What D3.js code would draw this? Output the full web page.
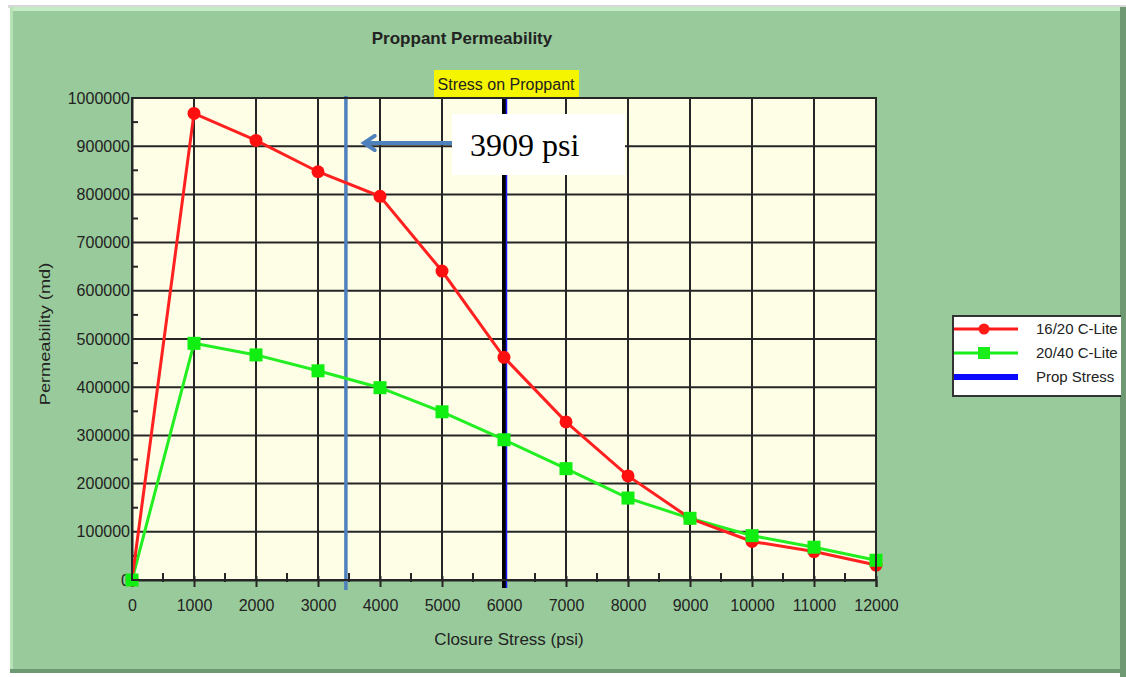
<!DOCTYPE html>
<html>
<head>
<meta charset="utf-8">
<script src="https://cdn.jsdelivr.net/npm/d3@7"></script>
<style>
  body { margin: 0; background: #ffffff; }
  svg { display: block; }
</style>
</head>
<body>
<script>
// data
var stress = [0, 1000, 2000, 3000, 4000, 5000, 6000, 7000, 8000, 9000, 10000, 11000, 12000];
var cLite1620 = [0, 968000, 912000, 847000, 796000, 641000, 462000, 328000, 216000, 128000, 80000, 59000, 31000];
var cLite2040 = [0, 491000, 467000, 434000, 399000, 349000, 291000, 231000, 170000, 128000, 92000, 68000, 41000];
var xTicks = [0, 1000, 2000, 3000, 4000, 5000, 6000, 7000, 8000, 9000, 10000, 11000, 12000];
var yTicks = [0, 100000, 200000, 300000, 400000, 500000, 600000, 700000, 800000, 900000, 1000000];
var propStress = 6000;
var markerStress = 3450;
var seriesNames = ["16/20 C-Lite", "20/40 C-Lite", "Prop Stress"];

var W = 1126, H = 677;
var sans = "'Liberation Sans', Arial, sans-serif";
var margin = {top: 98, left: 132, right: 250, bottom: 97};
var width = 876 - margin.left,
    height = 580 - margin.top;

var svg = d3.select("body").append("svg")
    .attr("width", W)
    .attr("height", H)
    .style("font-family", sans);

// green panel with bevel edges
svg.append("rect").attr("x", 0).attr("y", 0).attr("width", W).attr("height", H).attr("fill", "#ffffff");
svg.append("rect").attr("x", 8).attr("y", 5).attr("width", W - 8).attr("height", 3).attr("fill", "#d8d8d8");
svg.append("rect").attr("x", 10).attr("y", 7).attr("width", 1113).attr("height", 666).attr("fill", "#99ca9b");
svg.append("rect").attr("x", 10).attr("y", 7).attr("width", 1113).attr("height", 4).attr("fill", "#c4ecc4");
svg.append("rect").attr("x", 10).attr("y", 7).attr("width", 3).attr("height", 666).attr("fill", "#b6e2b6");
svg.append("rect").attr("x", 10).attr("y", 669).attr("width", 1113).attr("height", 4).attr("fill", "#6f9972");
svg.append("rect").attr("x", 1120).attr("y", 7).attr("width", 6).attr("height", 670).attr("fill", "#6f9972");

var g = svg.append("g")
    .attr("transform", "translate(" + margin.left + "," + margin.top + ")");

var xScale = d3.scaleLinear().domain([0, 12000]).range([0, width]);
var yScale = d3.scaleLinear().domain([0, 1000000]).range([height, 0]);

// plot background
g.append("rect")
    .attr("width", width)
    .attr("height", height)
    .attr("fill", "#fefee6");

// grid
g.append("g").selectAll("line").data(xTicks).join("line")
    .attr("x1", function(d) { return xScale(d); })
    .attr("x2", function(d) { return xScale(d); })
    .attr("y1", 0).attr("y2", height)
    .attr("stroke", "#262626").attr("stroke-width", 2);
g.append("g").selectAll("line").data(yTicks).join("line")
    .attr("y1", function(d) { return yScale(d); })
    .attr("y2", function(d) { return yScale(d); })
    .attr("x1", 0).attr("x2", width)
    .attr("stroke", "#262626").attr("stroke-width", 2);

// axes
var xAxis = g.append("g")
    .attr("transform", "translate(0," + height + ")")
    .call(d3.axisBottom(xScale).tickValues(xTicks).tickSize(7).tickPadding(13).tickFormat(d3.format("d")));
var yAxis = g.append("g")
    .call(d3.axisLeft(yScale).tickValues(yTicks).tickSize(0).tickPadding(2).tickFormat(d3.format("d")));
[xAxis, yAxis].forEach(function(a) {
    a.select(".domain").attr("stroke", "#262626").attr("stroke-width", 2);
    a.selectAll(".tick line").attr("stroke", "#262626").attr("stroke-width", 2);
    a.selectAll("text")
        .style("font-family", sans).style("font-size", "16px")
        .attr("fill", "#222");
});
xAxis.selectAll(".tick line").attr("y1", -4);

// minor ticks
var xMinor = d3.range(500, 12000, 1000);
var yMinor = d3.range(50000, 1000000, 100000);
g.append("g").selectAll("line").data(xMinor).join("line")
    .attr("x1", function(d) { return xScale(d); })
    .attr("x2", function(d) { return xScale(d); })
    .attr("y1", height - 7).attr("y2", height + 2)
    .attr("stroke", "#262626").attr("stroke-width", 2);
g.append("g").selectAll("line").data(yMinor).join("line")
    .attr("y1", function(d) { return yScale(d); })
    .attr("y2", function(d) { return yScale(d); })
    .attr("x1", -1).attr("x2", 6)
    .attr("stroke", "#262626").attr("stroke-width", 2);

// prop stress line
g.append("line")
    .attr("x1", xScale(propStress)).attr("x2", xScale(propStress))
    .attr("y1", -2).attr("y2", height + 8)
    .attr("stroke", "#000").attr("stroke-width", 4);
g.append("line")
    .attr("x1", xScale(propStress) + 2.5).attr("x2", xScale(propStress) + 2.5)
    .attr("y1", -2).attr("y2", height + 8)
    .attr("stroke", "#1a1aff").attr("stroke-width", 1.5);

// marker line
g.append("line")
    .attr("x1", xScale(markerStress)).attr("x2", xScale(markerStress))
    .attr("y1", -2).attr("y2", height + 10)
    .attr("stroke", "#4f81bd").attr("stroke-width", 3.5);

// series
var line1 = d3.line()
    .x(function(d, i) { return xScale(stress[i]); })
    .y(function(d) { return yScale(d); });

g.append("path").datum(cLite2040)
    .attr("d", line1).attr("fill", "none")
    .attr("stroke", "#22ee22").attr("stroke-width", 3);
g.append("path").datum(cLite1620)
    .attr("d", line1).attr("fill", "none")
    .attr("stroke", "#ff2020").attr("stroke-width", 3);

g.append("g").selectAll("circle").data(cLite1620).join("circle")
    .attr("cx", function(d, i) { return xScale(stress[i]); })
    .attr("cy", function(d) { return yScale(d); })
    .attr("r", 6.5)
    .attr("fill", "#ff1010");
g.append("g").selectAll("rect").data(cLite2040).join("rect")
    .attr("x", function(d, i) { return xScale(stress[i]) - 6.5; })
    .attr("y", function(d) { return yScale(d) - 6.5; })
    .attr("width", 13).attr("height", 13)
    .attr("fill", "#11ee11");

// plot border
g.append("rect").attr("width", width).attr("height", height)
    .attr("fill", "none").attr("stroke", "#262626").attr("stroke-width", 2);

// titles
svg.append("text")
    .attr("x", 462).attr("y", 44)
    .attr("text-anchor", "middle")
    .attr("fill", "#222")
    .style("font-size", "17px").style("font-weight", "bold")
    .text("Proppant Permeability");

var sx = margin.left + xScale(propStress);
svg.append("rect")
    .attr("x", sx - 70).attr("y", 70).attr("width", 145).attr("height", 27)
    .attr("fill", "#f5f500");
svg.append("text")
    .attr("x", sx + 2).attr("y", 90)
    .attr("text-anchor", "middle")
    .attr("fill", "#222")
    .style("font-size", "16px")
    .text("Stress on Proppant");

svg.append("text")
    .attr("transform", "translate(50," + (margin.top + height / 2 - 5) + ") rotate(-90) scale(1.3,1)")
    .attr("text-anchor", "middle")
    .attr("fill", "#222")
    .style("font-size", "14px")
    .text("Permeability (md)");

svg.append("text")
    .attr("x", 509).attr("y", 645)
    .attr("text-anchor", "middle")
    .attr("fill", "#222")
    .style("font-size", "17px")
    .text("Closure Stress (psi)");

// annotation
var defs = svg.append("defs");
defs.append("marker")
    .attr("id", "arrow")
    .attr("viewBox", "0 0 10 10")
    .attr("refX", 8).attr("refY", 5)
    .attr("markerWidth", 4.5).attr("markerHeight", 4.5)
    .attr("orient", "auto")
    .append("path")
    .attr("d", "M2,1 L8,5 L2,9")
    .attr("fill", "none")
    .attr("stroke", "#4f81bd").attr("stroke-width", 2.2)
    .attr("stroke-linecap", "round");
svg.append("line")
    .attr("x1", 452).attr("y1", 143)
    .attr("x2", margin.left + xScale(markerStress) + 18).attr("y2", 143)
    .attr("stroke", "#4f81bd").attr("stroke-width", 4)
    .attr("marker-end", "url(#arrow)");
svg.append("rect")
    .attr("x", 452).attr("y", 114).attr("width", 173).attr("height", 61)
    .attr("fill", "#ffffff");
svg.append("text")
    .attr("x", 470).attr("y", 156)
    .attr("fill", "#000")
    .style("font-family", "'Liberation Serif', 'Times New Roman', serif")
    .style("font-size", "32px")
    .text("3909 psi");

// legend
defs.append("clipPath").attr("id", "legclip")
    .append("rect").attr("x", 0).attr("y", 0).attr("width", 1121).attr("height", H);
var leg = svg.append("g").attr("clip-path", "url(#legclip)");
leg.append("rect")
    .attr("x", 953).attr("y", 316).attr("width", 190).attr("height", 80)
    .attr("fill", "#ffffff").attr("stroke", "#333").attr("stroke-width", 2);
var legColors = ["#ff1a1a", "#1aee1a", "#0a0aff"];
seriesNames.forEach(function(name, i) {
    var ly = 329 + i * 24;
    leg.append("line")
        .attr("x1", 954).attr("x2", 1018).attr("y1", ly).attr("y2", ly)
        .attr("stroke", legColors[i]).attr("stroke-width", i === 2 ? 6 : 3);
    if (i === 0) {
        leg.append("circle").attr("cx", 984).attr("cy", ly).attr("r", 5.5).attr("fill", legColors[i]);
    } else if (i === 1) {
        leg.append("rect").attr("x", 978).attr("y", ly - 6).attr("width", 12).attr("height", 12).attr("fill", legColors[i]);
    }
    leg.append("text")
        .attr("x", 1036).attr("y", ly + 5)
        .attr("fill", "#222")
        .style("font-size", "15px")
        .text(name);
});
</script>
</body>
</html>
